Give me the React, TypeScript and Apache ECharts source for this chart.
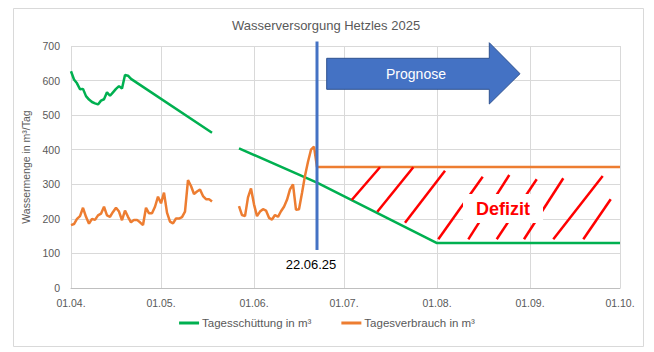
import React, { useEffect, useRef } from "react";
import * as echarts from "echarts";

// ---- categories: every day from 01.04. to 01.10.2025 ----
const days: string[] = [];
{
  const start = Date.UTC(2025, 3, 1);
  const end = Date.UTC(2025, 9, 1);
  for (let t = start; t <= end; t += 86400000) {
    const d = new Date(t);
    days.push(
      `${String(d.getUTCDate()).padStart(2, "0")}.${String(d.getUTCMonth() + 1).padStart(2, "0")}.`
    );
  }
}

const yTicks = [0, 100, 200, 300, 400, 500, 600, 700];

// ---- Tagesschüttung (green), two segments ----
const schuettungTeil1: [string, number][] = [
  ["01.04.", 627], ["02.04.", 603], ["03.04.", 592], ["04.04.", 575], ["05.04.", 576],
  ["06.04.", 555], ["07.04.", 545], ["08.04.", 538], ["09.04.", 534], ["10.04.", 531],
  ["11.04.", 542], ["12.04.", 546], ["13.04.", 566], ["14.04.", 556], ["15.04.", 566],
  ["16.04.", 576], ["17.04.", 584], ["18.04.", 577], ["19.04.", 616], ["20.04.", 614],
  ["21.04.", 605], ["18.05.", 449],
];
const schuettungTeil2: [string, number][] = [
  ["27.05.", 404], ["22.06.", 305], ["01.08.", 130], ["01.10.", 130],
];

// ---- Tagesverbrauch (orange) ----
const verbrauchTeil1Start = "01.04.";
const verbrauchTeil1: number[] = [
  182, 185, 200, 208, 232, 206, 186, 200, 197, 210, 215, 235, 210, 206, 220, 232,
  221, 196, 224, 206, 190, 197, 197, 190, 182, 232, 216, 216, 235, 264, 245, 276,
  218, 192, 187, 201, 201, 205, 221, 312, 295, 272, 279, 285, 266, 257, 257, 250,
];
const verbrauchTeil2Start = "27.05.";
const verbrauchTeil2: number[] = [
  237, 211, 208, 262, 288, 242, 208, 221, 228, 224, 203, 198, 211, 206, 222, 235,
  255, 285, 300, 226, 228, 275, 325, 365, 400, 409, 350,
];
const verbrauchPrognose: [string, number][] = [["01.10.", 350]];

// ---- Prognose marker ----
const stichtag = "22.06.";
const stichtagLabel = "22.06.25";
const stichtagLinie: [string, number][] = [[stichtag, 110], [stichtag, 713]];

const GREEN = "#00B050";
const ORANGE = "#ED7D31";
const BLUE = "#4472C4";
const GREY = "#595959";
const FONT = "Liberation Sans";

const hatch: [number, number, number, number][] = [
  [351.7, 200, 380, 167.3],
  [377.3, 211.7, 413.3, 167.3],
  [405, 222.7, 445, 170.7],
  [438.3, 239.3, 482.7, 176.7],
  [468.3, 239.3, 509.3, 175],
  [496.7, 239.3, 536.7, 179.3],
  [524, 239.3, 563.3, 178.3],
  [553.3, 239.3, 602.7, 176],
  [583.3, 239.3, 610.7, 199.3],
];

const toPairs = (start: string, vals: number[]): [string, number][] => {
  const s = days.indexOf(start);
  return vals.map((v, i) => [days[s + i], v]);
};

const isMonthStart = (_i: number, v: string) => v.startsWith("01.");

export default function App() {
  const ref = useRef<HTMLDivElement>(null);
  useEffect(() => {
    if (!ref.current) return;
    const chart = echarts.init(ref.current, undefined, { renderer: "svg" });
    const lineCommon = {
      type: "line" as const,
      showSymbol: false,
      symbol: "none",
      smooth: false,
      lineStyle: { width: 2.5 },
    };
    chart.setOption({
      animation: false,
      title: {
        text: "Wasserversorgung Hetzles 2025",
        left: 227,
        top: 14,
        textStyle: { fontFamily: FONT, fontSize: 13, fontWeight: "normal", color: GREY },
      },
      grid: { left: 71, right: 34, top: 46, bottom: 64, containLabel: false },
      legend: {
        bottom: 18,
        left: "center",
        icon: "rect",
        itemWidth: 20,
        itemHeight: 3,
        itemGap: 30,
        data: [
          { name: "Tagesschüttung in m³", itemStyle: { color: GREEN } },
          { name: "Tagesverbrauch in m³", itemStyle: { color: ORANGE } },
        ],
        textStyle: { fontFamily: FONT, fontSize: 11.5, color: GREY, padding: [0, 0, 0, -2] },
      },
      xAxis: {
        type: "category",
        data: days,
        boundaryGap: false,
        axisLine: { show: true, lineStyle: { color: "#BFBFBF", width: 1 } },
        axisTick: { show: false },
        axisLabel: {
          interval: isMonthStart,
          color: GREY,
          fontFamily: FONT,
          fontSize: 10.5,
          margin: 9,
        },
        splitLine: { show: true, interval: isMonthStart, lineStyle: { color: "#D9D9D9", width: 1 } },
      },
      yAxis: {
        type: "value",
        min: yTicks[0],
        max: yTicks[yTicks.length - 1],
        interval: 100,
        name: "Wassermenge in m³/Tag",
        nameLocation: "middle",
        nameGap: 32,
        nameTextStyle: { fontFamily: FONT, fontSize: 10.5, color: GREY },
        axisLine: { show: false },
        axisTick: { show: false },
        axisLabel: { color: GREY, fontFamily: FONT, fontSize: 10.5, margin: 11 },
        splitLine: { show: true, lineStyle: { color: "#D9D9D9", width: 1 } },
      },
      series: [
        { ...lineCommon, name: "Tagesschüttung in m³", color: GREEN, data: schuettungTeil1, z: 2 },
        { ...lineCommon, name: "Tagesschüttung in m³", color: GREEN, data: schuettungTeil2, z: 2 },
        {
          ...lineCommon,
          name: "Tagesverbrauch in m³",
          color: ORANGE,
          data: toPairs(verbrauchTeil1Start, verbrauchTeil1),
          z: 3,
        },
        {
          ...lineCommon,
          name: "Tagesverbrauch in m³",
          color: ORANGE,
          data: [...toPairs(verbrauchTeil2Start, verbrauchTeil2), ...verbrauchPrognose],
          z: 3,
        },
        {
          ...lineCommon,
          name: "Stichtag",
          color: BLUE,
          clip: false,
          silent: true,
          lineStyle: { width: 3, color: BLUE },
          data: stichtagLinie,
          z: 10,
        },
      ],
      graphic: [
        {
          type: "rect",
          shape: { x: 13.5, y: 8.5, width: 630, height: 338 },
          style: { fill: "none", stroke: "#D9D9D9", lineWidth: 1 },
          silent: true,
          z: -1,
        },
        ...hatch.map((h) => ({
          type: "line",
          shape: { x1: h[0], y1: h[1], x2: h[2], y2: h[3] },
          style: { stroke: "#FF0000", lineWidth: 2.5 },
          silent: true,
          z: 20,
        })),
        {
          type: "rect",
          shape: { x: 463, y: 194, width: 80, height: 29 },
          style: { fill: "#FFFFFF" },
          silent: true,
          z: 21,
        },
        {
          type: "text",
          x: 503,
          y: 209,
          style: {
            text: "Defizit",
            fill: "#FF0000",
            font: `bold 18px "${FONT}"`,
            align: "center",
            verticalAlign: "middle",
          },
          silent: true,
          z: 22,
        },
        {
          type: "polygon",
          shape: {
            points: [
              [326.7, 58.3], [489.3, 58.3], [489.3, 42.7], [520, 73.7],
              [489.3, 104], [489.3, 89.3], [326.7, 89.3],
            ],
          },
          style: { fill: BLUE, stroke: "#2F528F", lineWidth: 1 },
          silent: true,
          z: 20,
        },
        {
          type: "text",
          x: 416,
          y: 74,
          style: {
            text: "Prognose",
            fill: "#FFFFFF",
            font: `14px "${FONT}"`,
            align: "center",
            verticalAlign: "middle",
          },
          silent: true,
          z: 22,
        },
        {
          type: "text",
          x: 311,
          y: 264,
          style: {
            text: stichtagLabel,
            fill: "#000000",
            font: `13px "${FONT}"`,
            align: "center",
            verticalAlign: "middle",
          },
          silent: true,
          z: 22,
        },
      ],
    });
    return () => chart.dispose();
  }, []);
  return (
    <div
      ref={ref}
      style={{ position: "fixed", left: 0, top: 0, width: 654, height: 352, background: "#fff" }}
    />
  );
}
